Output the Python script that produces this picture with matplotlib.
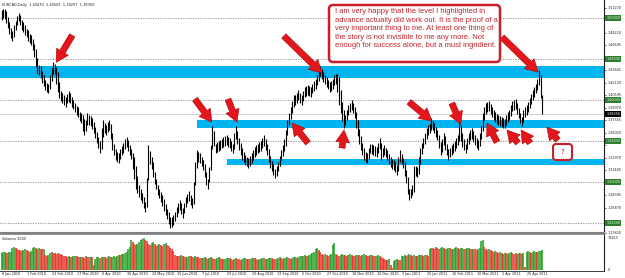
import matplotlib
matplotlib.use('Agg')
import matplotlib.pyplot as plt
import numpy as np
from matplotlib.patches import FancyBboxPatch
from matplotlib.transforms import IdentityTransform

# daily highs / lows of EURCAD, in thousandths (1504 -> 1.504)
highs = [
    1510, 1511, 1511, 1508, 1501, 1495, 1488, 1484, 1491, 1497,
    1503, 1506, 1504, 1498, 1495, 1491, 1487, 1485, 1481, 1479,
    1474, 1468, 1462, 1451, 1443, 1441, 1435, 1430, 1425, 1421,
    1420, 1430, 1439, 1446, 1444, 1440, 1434, 1422, 1411, 1408,
    1406, 1404, 1407, 1411, 1408, 1404, 1400, 1397, 1393, 1391,
    1386, 1384, 1382, 1377, 1376, 1384, 1382, 1380, 1378, 1373,
    1367, 1361, 1355, 1350, 1366, 1376, 1372, 1369, 1373, 1376,
    1371, 1360, 1346, 1340, 1337, 1335, 1340, 1344, 1348, 1352,
    1355, 1351, 1345, 1340, 1336, 1331, 1319, 1307, 1296, 1291,
    1287, 1282, 1276, 1305, 1345, 1338, 1331, 1325, 1312, 1304,
    1296, 1292, 1288, 1284, 1279, 1273, 1267, 1263, 1257, 1258,
    1260, 1264, 1269, 1274, 1278, 1274, 1268, 1275, 1282, 1286,
    1289, 1284, 1280, 1300, 1325, 1339, 1337, 1335, 1331, 1327,
    1322, 1312, 1304, 1318, 1345, 1368, 1362, 1347, 1349, 1350,
    1351, 1353, 1355, 1356, 1357, 1355, 1354, 1350, 1347, 1360,
    1368, 1362, 1354, 1348, 1341, 1337, 1333, 1331, 1329, 1332,
    1335, 1339, 1343, 1345, 1347, 1349, 1350, 1354, 1357, 1353,
    1347, 1340, 1332, 1326, 1322, 1316, 1320, 1325, 1332, 1339,
    1345, 1352, 1364, 1376, 1384, 1391, 1399, 1406, 1406, 1409,
    1412, 1409, 1406, 1411, 1416, 1417, 1418, 1417, 1416, 1420,
    1423, 1426, 1430, 1436, 1441, 1438, 1434, 1431, 1428, 1425,
    1422, 1423, 1426, 1430, 1432, 1432, 1428, 1412, 1398, 1388,
    1382, 1388, 1394, 1397, 1400, 1396, 1392, 1386, 1376, 1365,
    1356, 1348, 1341, 1337, 1335, 1341, 1347, 1346, 1345, 1344,
    1343, 1348, 1354, 1348, 1342, 1345, 1342, 1339, 1334, 1330,
    1328, 1327, 1324, 1321, 1330, 1339, 1334, 1329, 1324, 1315,
    1306, 1291, 1292, 1296, 1320, 1320, 1318, 1330, 1341, 1348,
    1354, 1360, 1366, 1369, 1372, 1378, 1375, 1372, 1367, 1363,
    1358, 1349, 1353, 1360, 1356, 1346, 1340, 1342, 1345, 1348,
    1350, 1354, 1357, 1374, 1370, 1360, 1352, 1347, 1354, 1360,
    1363, 1366, 1362, 1357, 1354, 1351, 1360, 1370, 1384, 1391,
    1396, 1398, 1399, 1395, 1391, 1388, 1385, 1383, 1382, 1380,
    1379, 1378, 1377, 1382, 1385, 1388, 1394, 1399, 1400, 1401,
    1397, 1390, 1384, 1379, 1388, 1391, 1394, 1398, 1402, 1407,
    1412, 1416, 1420, 1426, 1437, 1430, 1406,
]
lows = [
    1498, 1500, 1499, 1494, 1488, 1481, 1476, 1472, 1477, 1485,
    1491, 1496, 1492, 1486, 1483, 1479, 1477, 1472, 1470, 1467,
    1461, 1452, 1440, 1432, 1430, 1427, 1421, 1417, 1412, 1410,
    1409, 1414, 1423, 1432, 1432, 1420, 1410, 1403, 1399, 1396,
    1394, 1392, 1396, 1398, 1396, 1392, 1389, 1386, 1382, 1379,
    1374, 1372, 1362, 1357, 1362, 1369, 1370, 1368, 1365, 1360,
    1354, 1348, 1342, 1336, 1340, 1355, 1360, 1357, 1361, 1363,
    1352, 1339, 1333, 1327, 1325, 1323, 1328, 1333, 1336, 1340,
    1343, 1338, 1333, 1328, 1316, 1304, 1292, 1287, 1282, 1278,
    1274, 1268, 1263, 1270, 1302, 1322, 1316, 1306, 1298, 1292,
    1284, 1280, 1276, 1271, 1265, 1260, 1255, 1249, 1244, 1245,
    1248, 1252, 1257, 1262, 1266, 1261, 1256, 1262, 1269, 1274,
    1277, 1272, 1268, 1273, 1296, 1317, 1325, 1323, 1319, 1315,
    1306, 1297, 1292, 1300, 1315, 1340, 1344, 1335, 1337, 1338,
    1339, 1341, 1343, 1344, 1345, 1343, 1342, 1338, 1335, 1340,
    1352, 1346, 1339, 1333, 1327, 1324, 1321, 1319, 1317, 1320,
    1323, 1327, 1331, 1333, 1335, 1337, 1338, 1342, 1344, 1339,
    1333, 1325, 1317, 1313, 1309, 1305, 1308, 1313, 1320, 1327,
    1332, 1338, 1344, 1357, 1370, 1377, 1384, 1392, 1394, 1397,
    1400, 1397, 1394, 1399, 1404, 1405, 1406, 1405, 1404, 1408,
    1411, 1414, 1418, 1423, 1429, 1426, 1422, 1419, 1416, 1413,
    1410, 1411, 1414, 1418, 1420, 1410, 1394, 1384, 1375, 1366,
    1370, 1376, 1382, 1385, 1388, 1384, 1378, 1366, 1356, 1347,
    1339, 1333, 1327, 1325, 1323, 1328, 1335, 1334, 1333, 1332,
    1331, 1336, 1340, 1327, 1330, 1333, 1330, 1327, 1322, 1318,
    1316, 1315, 1312, 1309, 1314, 1325, 1322, 1317, 1308, 1299,
    1285, 1278, 1280, 1284, 1288, 1308, 1306, 1310, 1322, 1334,
    1341, 1347, 1353, 1357, 1360, 1364, 1363, 1360, 1355, 1351,
    1342, 1333, 1337, 1345, 1339, 1333, 1327, 1330, 1333, 1336,
    1338, 1342, 1345, 1350, 1350, 1343, 1339, 1335, 1340, 1347,
    1351, 1353, 1349, 1345, 1342, 1339, 1344, 1352, 1362, 1376,
    1383, 1386, 1387, 1383, 1379, 1376, 1373, 1371, 1370, 1368,
    1367, 1366, 1366, 1370, 1373, 1376, 1381, 1387, 1388, 1389,
    1383, 1378, 1372, 1368, 1373, 1379, 1382, 1386, 1390, 1395,
    1400, 1404, 1408, 1412, 1418, 1403, 1383,
]
volumes = [
    7000, 7400, 7600, 7200, 6900, 7300, 7500, 9200, 9600, 9100,
    8800, 8400, 8100, 7800, 8300, 8700, 8200, 7900, 7600, 8000,
    9100, 9400, 9000, 8700, 9200, 8900, 8500, 8800, 6200, 5900,
    6300, 7100, 7400, 7200, 6900, 6700, 7000, 6800, 6500, 6200,
    6000, 5600, 5400, 5800, 5500, 5300, 5600, 5900, 5700, 5400,
    5200, 5500, 5300, 5000, 5600, 5400, 5200, 5500, 5300, 2000,
    4600, 5200, 5400, 5100, 5300, 5500, 5200, 5000, 5400, 5600,
    5300, 5500, 5700, 5400, 6000, 6300, 6100, 6500, 6800, 7200,
    7500, 8800, 9600, 12300, 11400, 10900, 10200, 10600, 11800, 12500,
    12900, 13200, 12600, 11900, 10800, 10300, 11200, 11600, 10700, 10100,
    10500, 10900, 10400, 9900, 10600, 11100, 10500, 9800, 9300, 8700,
    7800, 6400, 5900, 5600, 5800, 6100, 5700, 5400, 5200, 5500,
    5800, 5600, 5300, 5500, 5700, 5400, 5200, 5000, 4800, 5100,
    5300, 5000, 4700, 4900, 5200, 4800, 4500, 4700, 5000, 5200,
    4900, 4600, 4400, 4700, 4900, 5100, 4800, 4500, 4300, 4600,
    4900, 4700, 4400, 4200, 4500, 4800, 5000, 4700, 4400, 4600,
    4800, 5100, 4900, 4600, 4300, 4500, 4700, 5000, 4800, 4500,
    4700, 4900, 5100, 4800, 4600, 4400, 4700, 5000, 5200, 4900,
    4600, 4800, 5100, 5300, 5000, 4700, 4900, 5200, 5400, 5100,
    5500, 5800, 5600, 5900, 6100, 5700, 5900, 6200, 6500, 7000,
    7400, 8600, 9000, 8300, 7600, 6800, 6400, 6700, 6200, 6000,
    6300, 6600, 10200, 11000, 6500, 6200, 5900, 6300, 6600, 6400,
    6100, 5800, 6200, 6500, 6300, 6000, 5700, 6100, 6400, 6200,
    5900, 6200, 6600, 6300, 6000, 5800, 6100, 6300, 5900, 5600,
    5800, 6100, 5800, 5300, 4900, 4600, 4300, 4100, 4400, 2100,
    900, 3800, 4200, 4500, 4300, 4100, 5600, 6000, 6300, 5900,
    6200, 6500, 6100, 5800, 6200, 6000, 5700, 6100, 6400, 6200,
    5900, 6300, 6100, 5800, 8900, 9300, 9000, 8700, 9400, 9100,
    8800, 9200, 9500, 9100, 8600, 8900, 9300, 9000, 8500, 8800,
    9200, 9400, 9100, 8700, 9000, 9300, 8900, 8600, 9000, 9200,
    8800, 8500, 8900, 8600, 8300, 8700, 9100, 11900, 12300, 9500,
    8700, 8300, 8800, 8200, 7900, 7400, 7700, 7300, 7000, 7400,
    7100, 6800, 7200, 6900, 6600, 7000, 7300, 6900, 6600, 7100,
    6800, 7200, 6900, 6600, 7000, 1300, 7400, 7800, 7500, 7200,
    7600, 7900, 7500, 7300, 7700, 8000, 8200,
]
date_labels = ['8 Jan 2010', '1 Feb 2010', '23 Feb 2010', '17 Mar 2010', '8 Apr 2010',
               '30 Apr 2010', '24 May 2010', '15 Jun 2010', '7 Jul 2010', '29 Jul 2010',
               '20 Aug 2010', '13 Sep 2010', '5 Oct 2010', '27 Oct 2010', '18 Nov 2010',
               '10 Dec 2010', '3 Jan 2011', '25 Jan 2011', '16 Feb 2011', '10 Mar 2011',
               '1 Apr 2011', '25 Apr 2011']
price_ticks = [1.51270, 1.49745, 1.48220, 1.46695, 1.45170, 1.43645, 1.42120, 1.40595,
               1.39070, 1.37545, 1.36020, 1.34495, 1.32970, 1.31445, 1.29920, 1.28395,
               1.26870, 1.25345, 1.23820]
levels = [1.50, 1.45, 1.40, 1.35, 1.30, 1.25]
last_ohlc = [1.40470, 1.40555, 1.38297, 1.38350]
vol_max = 13263
# zones: first bar, lower price, upper price
zones = [(-1, 1.4269, 1.4415), (125, 1.3660, 1.3757), (144, 1.3210, 1.3287)]
# arrows: target bar, target price, tail offset in pixels
arrows = [(35, 1.446, 16, 27), (134.7, 1.373, -17, 23), (150.7, 1.373, -9, 23),
          (185.9, 1.372, 16, -20), (205, 1.433, -38, 37), (219.2, 1.3635, -2, -18),
          (275.5, 1.3745, -23, 19), (294, 1.3705, -9, 21), (310.7, 1.372, 10, -19),
          (323.5, 1.3635, 11, -13), (332.5, 1.3635, 9, -13), (349, 1.367, 11, -13),
          (343.4, 1.434, -36, 35)]
note = ("I am very happy that the level I highlighted in\n"
        "advance actually did work out. It is the proof of a\n"
        "very important thing to me. At least one thing of\n"
        "the story is not invisible to me any more. Not\n"
        "enough for success alone, but a must ingridient.")

W, H = 625, 278
fig = plt.figure(figsize=(W / 100, H / 100), dpi=100)
fig.patch.set_facecolor('white')
ax = fig.add_axes([0, 45 / H, 604 / W, 233 / H])
vax = fig.add_axes([0, 7 / H, 604 / W, 37 / H])

idx = np.arange(len(highs))
hi = np.array(highs) / 1000
lo = np.array(lows) / 1000
vol = np.array(volumes)

xmin, xmax = -0.96, 385.6
ax.set_xlim(xmin, xmax)
ax.set_ylim(1.2379, 1.5220)

for first, zlo, zhi in zones:
    ax.fill_between([first, xmax], zlo, zhi, color='#00b4f0', lw=0, zorder=1)
for lv in levels:
    ax.axhline(lv, color='#8a8a8a', lw=0.6, ls=(0, (1.5, 1.5)), zorder=0)
ax.axhline(last_ohlc[3], color='#c8c8c8', lw=0.6, zorder=0)

ax.vlines(idx, lo, hi, color='black', lw=0.8, zorder=3)

for bx, by, dx, dy in arrows:
    ax.annotate('', xy=(bx, by), xytext=(dx, dy), textcoords='offset pixels',
                arrowprops=dict(arrowstyle='simple,head_length=0.8,head_width=0.9,tail_width=0.4',
                                fc='#e3161c', ec='#b00000', lw=0.4, mutation_scale=11,
                                shrinkA=0, shrinkB=0), zorder=5)

ax.set_xticks([])
ax.set_yticks([])
for s in ['left', 'top']:
    ax.spines[s].set_visible(False)
ax.spines['right'].set_color('#202020')
ax.spines['right'].set_linewidth(0.8)
ax.spines['bottom'].set_color('#808080')
ax.spines['bottom'].set_linewidth(1.5)

# right price scale (scale labels hidden where a level tag sits on them)
for p in price_ticks:
    ax.plot([1.0, 1.004], [p, p], transform=ax.get_yaxis_transform(), color='#202020',
            lw=0.4, clip_on=False)
    near = [lv for lv in levels + [last_ohlc[3]] if abs(lv - p) < 0.0055]
    if near:
        continue
    ax.text(1.006, p, f'{p:.5f}', transform=ax.get_yaxis_transform(), fontsize=2.4,
            va='center', ha='left', color='#202020', clip_on=False)
for lv in levels:
    ax.text(1.004, lv, f'{lv:.5f}', transform=ax.get_yaxis_transform(), fontsize=2.4,
            va='center', ha='left', color='#d8ffd8', clip_on=False,
            bbox=dict(boxstyle='square,pad=0.3', fc='#2f7d2f', ec='none'))
ax.text(1.004, last_ohlc[3], f'{last_ohlc[3]:.5f}', transform=ax.get_yaxis_transform(),
        fontsize=2.4, va='center', ha='left', color='white', clip_on=False,
        bbox=dict(boxstyle='square,pad=0.3', fc='black', ec='none'))

ax.text(0.004, 0.985, 'EURCAD,Daily  ' + '  '.join(f'{v:.5f}' for v in last_ohlc),
        transform=ax.transAxes, fontsize=2.5, va='top', ha='left', color='#202020')

# note box
fig.add_artist(FancyBboxPatch((329, H - 62), 171, 57, boxstyle='round,pad=0,rounding_size=4',
                              transform=IdentityTransform(), fc='white', ec='#c8202a', lw=1.8,
                              zorder=6))
fig.text(335 / W, 1 - 8 / H, note, fontsize=5.4, family=['Liberation Sans Narrow', 'Liberation Sans'],
         color='#c0232b', va='top', ha='left', linespacing=1.32, zorder=7)
fig.add_artist(FancyBboxPatch((553, H - 160), 19, 16, boxstyle='round,pad=0,rounding_size=3',
                              transform=IdentityTransform(), fc='white', ec='#c8202a', lw=1.5,
                              zorder=6))
fig.text(562.5 / W, 1 - 152 / H, '?', fontsize=5, color='#c0232b', va='center', ha='center', zorder=7)

# volume panel
vax.set_xlim(xmin, xmax)
vax.set_ylim(-414, 14920)
vcol = ['#1e9e1e'] + ['#1e9e1e' if vol[i] > vol[i - 1] else '#ee2a22' for i in range(1, len(vol))]
vax.vlines(idx, 0, vol, colors=vcol, lw=1.1)
vax.set_xticks([])
vax.set_yticks([])
vax.spines['left'].set_visible(False)
vax.spines['top'].set_color('#808080')
vax.spines['top'].set_linewidth(1.2)
vax.spines['right'].set_color('#202020')
vax.spines['right'].set_linewidth(0.8)
vax.spines['bottom'].set_color('#202020')
vax.spines['bottom'].set_linewidth(0.6)
vax.text(0.004, 0.93, f'Volumes {volumes[-1]}', transform=vax.transAxes, fontsize=2.4,
         va='top', ha='left', color='#202020')
vax.text(1.006, vol_max, str(vol_max), transform=vax.get_yaxis_transform(), fontsize=2.4,
         va='center', ha='left', color='#202020', clip_on=False)
vax.text(1.006, 0, '0', transform=vax.get_yaxis_transform(), fontsize=2.4,
         va='center', ha='left', color='#202020', clip_on=False)
for k, lab in enumerate(date_labels):
    vax.text(k * 16, -0.04, lab, transform=vax.get_xaxis_transform(), fontsize=2.4,
             va='top', ha='left', color='#202020', clip_on=False)

fig.savefig('out.png', dpi=100, facecolor='white')
